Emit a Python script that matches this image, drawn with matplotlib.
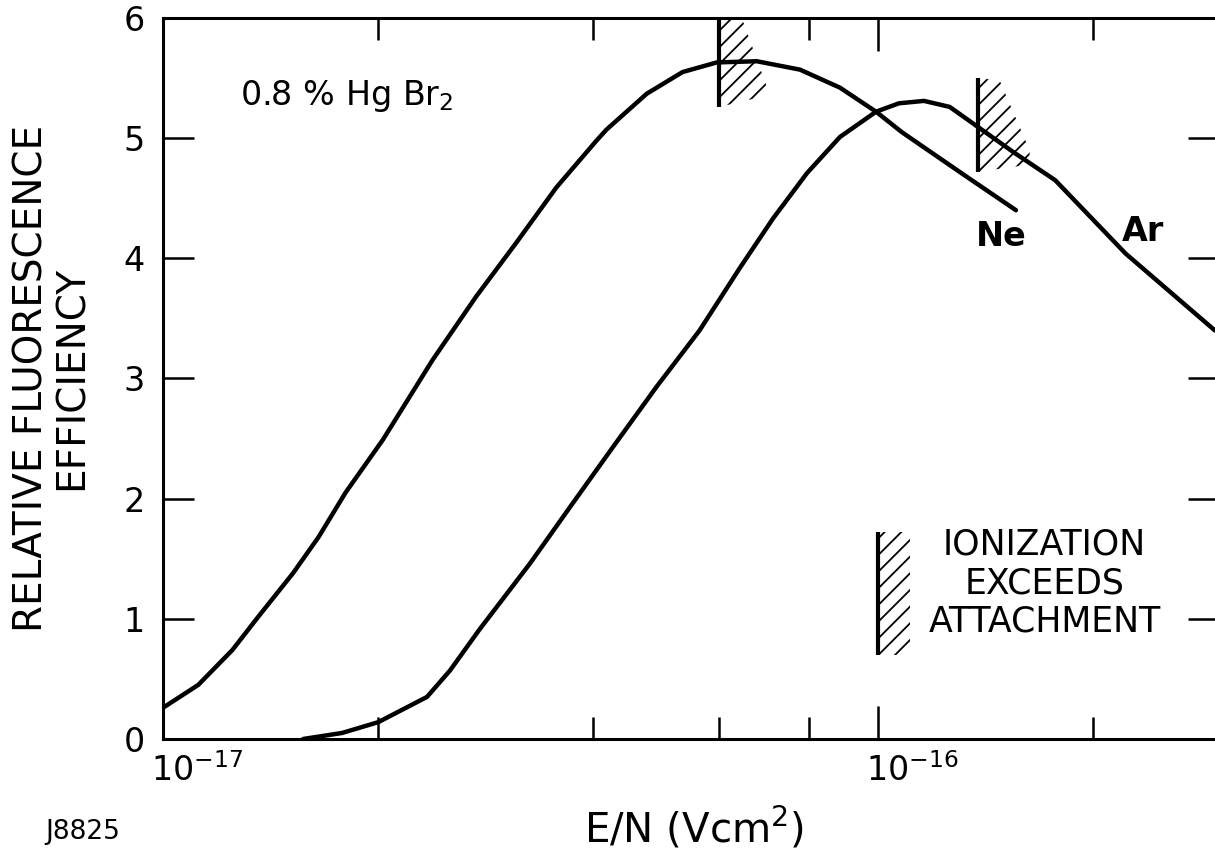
import numpy as np
import matplotlib
matplotlib.use('Agg')
import matplotlib.pyplot as plt
import matplotlib.transforms as mtransforms
from matplotlib.ticker import FixedLocator, NullFormatter

# E/N in units of 1e-17 V cm^2
ne_x = np.array([1.0, 1.12, 1.25, 1.36, 1.52, 1.65, 1.80, 2.03, 2.38, 2.74, 3.12, 3.55,
                 4.04, 4.17, 4.75, 5.33, 5.95, 6.77, 7.78, 8.85, 9.94, 10.8, 13.15, 15.6]) * 1e-17
ne_y = [0.26, 0.45, 0.74, 1.02, 1.38, 1.68, 2.05, 2.49, 3.15, 3.68, 4.13, 4.59,
        4.98, 5.07, 5.37, 5.55, 5.63, 5.64, 5.57, 5.42, 5.22, 5.05, 4.70, 4.40]

ar_x = np.array([1.57, 1.78, 2.0, 2.34, 2.52, 2.77, 3.26, 3.74, 4.26, 4.90, 5.63, 6.41,
                 7.13, 7.96, 8.85, 9.94, 10.7, 11.6, 12.6, 13.6, 15.5, 17.7, 22.2, 29.6]) * 1e-17
ar_y = [0.0, 0.05, 0.14, 0.35, 0.57, 0.91, 1.46, 1.96, 2.43, 2.93, 3.40, 3.92,
        4.33, 4.71, 5.01, 5.22, 5.29, 5.31, 5.26, 5.12, 4.88, 4.65, 4.04, 3.40]

# hatched "ionization exceeds attachment" markers
ne_mark_x = np.array([6.0, 6.45, 7.06, 6.0]) * 1e-17
ne_mark_y = [6.0, 6.0, 5.36, 5.26]
ar_mark_x = np.array([13.8, 14.8, 16.3, 16.3, 13.8]) * 1e-17
ar_mark_y = [5.50, 5.48, 4.90, 4.78, 4.72]
key_mark_x = np.array([10.0, 11.1, 11.1, 10.0]) * 1e-17
key_mark_y = [1.72, 1.72, 0.70, 0.70]

x_major = [1e-17, 1e-16]
x_minor = [2e-17, 4e-17, 6e-17, 8e-17, 2e-16]
x_labels = ['$10^{-17}$', '$10^{-16}$']
y_ticks = [0, 1, 2, 3, 4, 5, 6]

plt.rcParams['font.family'] = ['DejaVu Sans']
plt.rcParams['hatch.linewidth'] = 1.3
plt.rcParams['mathtext.default'] = 'regular'

fig = plt.figure(figsize=(12.15, 8.56), dpi=100)
ax = fig.add_axes([0.1342, 0.1367, 0.8691, 0.8423])

ax.plot(ne_x, ne_y, color='black', lw=3.2, solid_capstyle='round', solid_joinstyle='round')
ax.plot(ar_x, ar_y, color='black', lw=3.2, solid_capstyle='round', solid_joinstyle='round')

for mx, my in [(ne_mark_x, ne_mark_y), (ar_mark_x, ar_mark_y), (key_mark_x, key_mark_y)]:
    ax.fill(mx, my, facecolor='none', edgecolor='black', hatch='//', lw=0)
    ax.vlines(mx[0], min(my), max(my), color='black', lw=3)

ax.set_xscale('log')
ax.set_xlim(1e-17, 3e-16)
ax.set_ylim(0, 6)

ax.xaxis.set_major_locator(FixedLocator(x_major))
ax.xaxis.set_minor_locator(FixedLocator(x_minor))
ax.xaxis.set_major_formatter(NullFormatter())
ax.xaxis.set_minor_formatter(NullFormatter())
ax.set_yticks(y_ticks)

ax.tick_params(axis='x', which='major', direction='in', length=24, width=1.8, top=True)
ax.tick_params(axis='x', which='minor', direction='in', length=16, width=1.8, top=True)
ax.tick_params(axis='y', direction='in', length=22, width=1.8, right=True,
               labelsize=24, pad=13)
for s in ax.spines.values():
    s.set_linewidth(2.2)

# decade labels sit just right of the tick
lab_tr = mtransforms.offset_copy(ax.get_xaxis_transform(), fig=fig, x=-12, y=-14, units='dots')
for xv, lab in zip(x_major, x_labels):
    ax.text(xv, 0, lab, transform=lab_tr, ha='left', va='top', fontsize=24)

ax.text(1.28e-17, 5.35, '0.8 % Hg Br$_2$', fontsize=24, ha='left', va='center')
ax.text(1.49e-16, 4.18, 'Ne', fontsize=24, fontweight='bold', ha='center', va='center')
ax.text(2.35e-16, 4.22, 'Ar', fontsize=24, fontweight='bold', ha='center', va='center')

ax.text(1.71e-16, 1.62, 'IONIZATION', fontsize=25, ha='center', va='center')
ax.text(1.71e-16, 1.29, 'EXCEEDS', fontsize=25, ha='center', va='center')
ax.text(1.71e-16, 0.98, 'ATTACHMENT', fontsize=25, ha='center', va='center')

fig.text(0.0424, 0.558, 'RELATIVE FLUORESCENCE\nEFFICIENCY', rotation=90, fontsize=28,
         ha='center', va='center', multialignment='center', linespacing=1.05)
fig.text(0.571, 0.032, 'E/N (Vcm$^2$)', fontsize=29, ha='center', va='center')
fig.text(0.068, 0.028, 'J8825', fontsize=19, ha='center', va='center')

fig.savefig('out.png', dpi=100)
